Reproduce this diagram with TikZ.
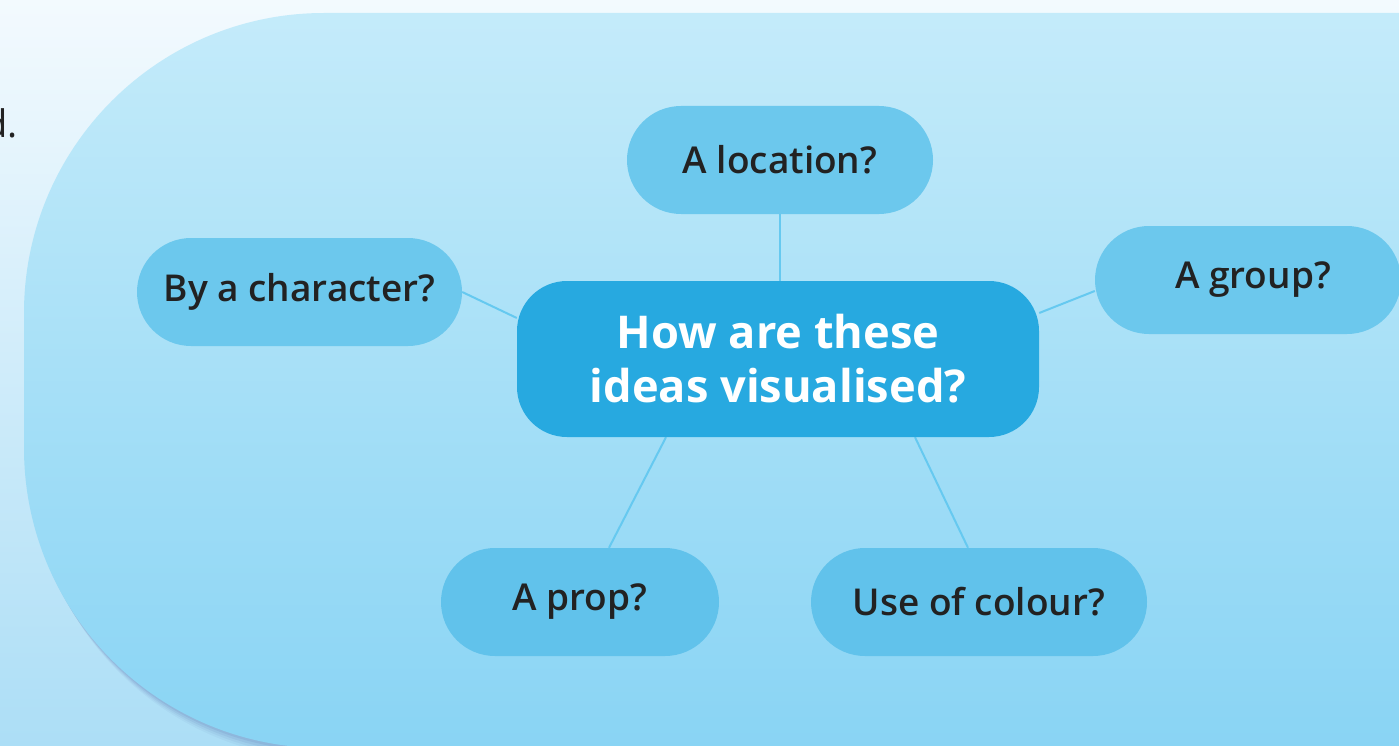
\documentclass[tikz,border=0pt]{standalone}
\usepackage{fontspec}
\setmainfont{Open Sans}
\newfontfamily\labfont{Open Sans Semibold}
\pgfdeclarelayer{bg}
\pgfdeclarelayer{edges}
\pgfsetlayers{bg,edges,main}
\definecolor{ctrfill}{HTML}{27A9E0}
\definecolor{pilltop}{HTML}{6CC8ED}
\definecolor{pillbot}{HTML}{61C2EB}
\definecolor{linec}{HTML}{66C9F0}
\definecolor{txt}{HTML}{222222}
\definecolor{pagetop}{HTML}{F3FAFE}
\definecolor{pagebot}{HTML}{ACDEF6}
\definecolor{bigtop}{HTML}{C4EBFA}
\definecolor{bigmid}{HTML}{AAE2F7}
\definecolor{bigbot}{HTML}{89D4F4}
\tikzset{
  pill/.style={rounded corners=54pt, minimum height=108pt, inner sep=0pt,
    text=txt, font=\labfont\fontsize{37}{43}\selectfont},
  centre/.style={rounded corners=50pt, fill=ctrfill, minimum width=522pt,
    minimum height=156pt, inner sep=0pt, text=white, align=center,
    font=\bfseries\fontsize{45.2}{54}\selectfont},
  link/.style={draw=linec, line width=2pt}
}
\begin{document}
\begin{tikzpicture}[x=1pt,y=-1pt]
\useasboundingbox (0,0) rectangle (1399,746);
\clip (0,0) rectangle (1399,746);
\begin{pgfonlayer}{bg}
\shade[top color=pagetop, bottom color=pagebot] (0,0) rectangle (1399,746);
\foreach \s/\o in {12/0.03,9/0.04,6/0.05,3/0.06}{
  \fill[black!60!blue, opacity=\o, rounded corners=300pt]
    ([xshift=\s*0.6pt, yshift=-\s*1pt]24,13) rectangle ([xshift=\s*0.6pt, yshift=-\s*1pt]1800,748);
}
\shade[rounded corners=300pt, top color=bigtop, middle color=bigmid, bottom color=bigbot]
  (24,13) rectangle (1800,748);
\end{pgfonlayer}
\node[anchor=base east, text=txt, font=\fontsize{38}{44}\selectfont] (tail) at (21,138) {d.};
\node[centre] (ctr) at (778,359) {How are these\\ideas visualised?};
\node[pill, fill=pilltop, minimum width=306pt] (loc) at (780,160) {A location?};
\node[pill, fill=pilltop, minimum width=325pt] (char) at (299.5,292) {By a character?};
\node[pill, fill=pilltop, minimum width=306pt] (grp) at (1248,280) {\hspace*{10pt}A group?};
\node[pill, fill=pillbot, minimum width=278pt] (prop) at (580,602) {A prop?};
\node[pill, fill=pillbot, minimum width=336pt] (col) at (979,602) {Use of colour?};
\begin{pgfonlayer}{edges}
\draw[link] (loc.south) -- (loc.south |- ctr.north);
\draw[link] (char.east) -- ([yshift=41pt]ctr.west);
\draw[link] ([yshift=-11pt]grp.west) -- ([yshift=46pt]ctr.east);
\draw[link] ([xshift=29pt]prop.north) -- ([xshift=-112pt]ctr.south);
\draw[link] ([xshift=-11pt]col.north) -- ([xshift=137pt]ctr.south);
\end{pgfonlayer}
\end{tikzpicture}
\end{document}
